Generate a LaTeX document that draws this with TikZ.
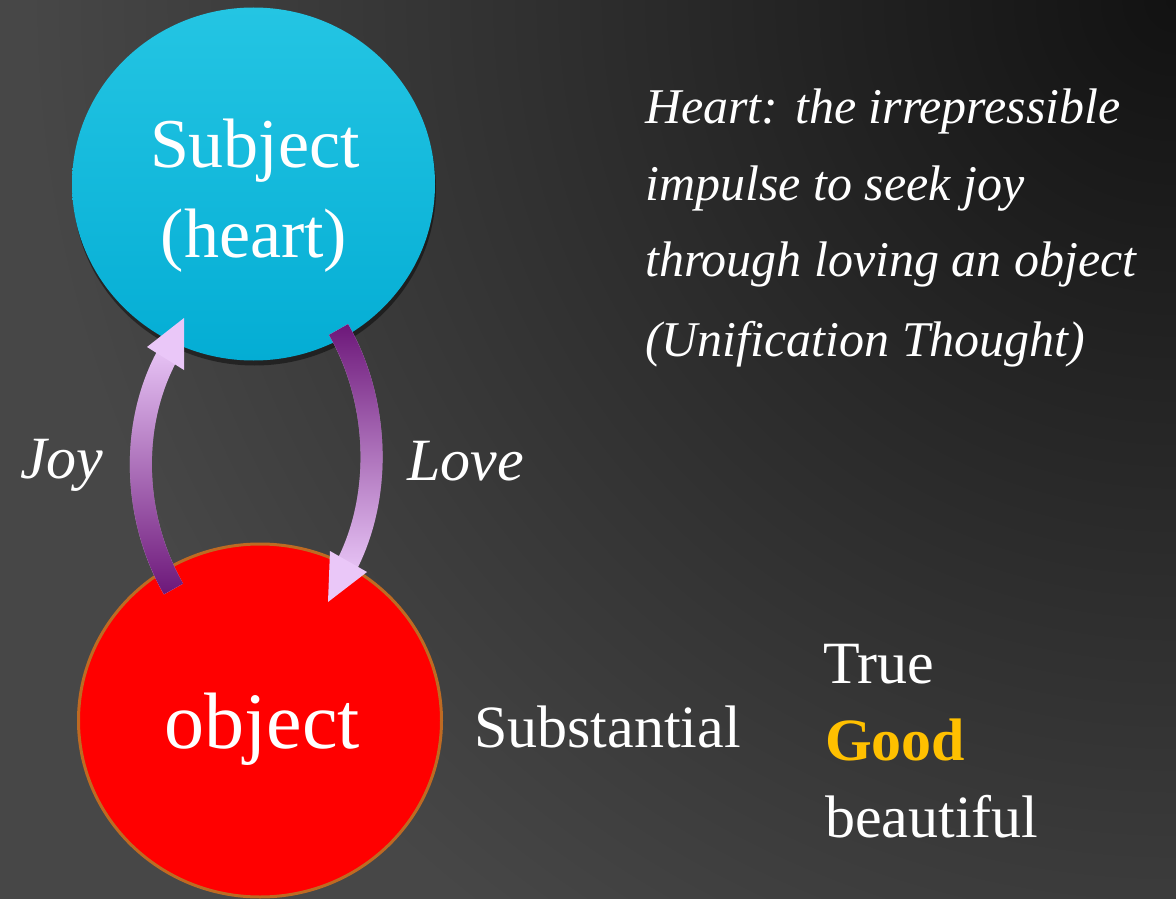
\documentclass[tikz,border=0pt]{standalone}
\usepackage{fontspec}
\setmainfont{Liberation Serif}
\usetikzlibrary{shapes.geometric,shadows,fadings}
\definecolor{bgdark}{HTML}{121212}
\definecolor{bglight}{HTML}{474747}
\definecolor{cyanT}{HTML}{24C5E3}
\definecolor{cyanB}{HTML}{04ADD4}
\definecolor{objred}{HTML}{FF0000}
\definecolor{objrim}{HTML}{BE6A22}
\definecolor{lav}{HTML}{EAC7F8}
\definecolor{purp}{HTML}{6A1477}
\definecolor{gold}{HTML}{FFC000}
\tikzfading[name=joyfade, top color=transparent!100, middle color=transparent!75, bottom color=transparent!0]
\tikzfading[name=lovefade, top color=transparent!0, middle color=transparent!60, bottom color=transparent!100]
\begin{document}
\begin{tikzpicture}[x=1pt,y=-1pt,
  txt/.style={text=white, inner sep=0pt, anchor=base},
  circtxt/.style={txt, font=\fontsize{70}{80}\selectfont},
  itxt/.style={txt, anchor=base west, font=\fontsize{60}{70}\selectfont\itshape},
  para/.style={txt, anchor=base west, font=\fontsize{50}{60}\selectfont\itshape},
  side/.style={txt, anchor=base west, font=\fontsize{60}{70}\selectfont},
  shaft/.style={line width=22pt, line cap=butt},
  head/.style={fill=lav}
]
\useasboundingbox (0,0) rectangle (1176,899);
% background
\begin{scope}
\clip (0,0) rectangle (1176,899);
\fill[bglight] (0,0) rectangle (1176,899);
\shade[inner color=bgdark, outer color=bglight] (1176,0) circle (1150);
\end{scope}

% circles
\node[ellipse, minimum width=363pt, minimum height=353pt, inner sep=0pt,
      top color=cyanT, bottom color=cyanB,
      drop shadow={shadow xshift=1pt, shadow yshift=-5pt, opacity=.45, fill=black}] (subj) at (253.5,184) {};
\node[ellipse, minimum width=363pt, minimum height=353pt, inner sep=0pt,
      fill=objred, draw=objrim, line width=3pt] (obj) at (260,720.5) {};

\node[circtxt] (subjA) at (255,167) {Subject};
\node[circtxt] (subjB) at (254,257) {(heart)};
\node[txt, font=\fontsize{80}{90}\selectfont] (objT) at (262,748) {object};

% arrows
\coordinate (joyTail) at (173.5,589);
\coordinate (joyBase) at (167,356);
\coordinate (joyTip) at (184,318);
\coordinate (joyL) at (147,347);
\coordinate (joyR) at (184,370);
\coordinate (loveTail) at (338.5,329.5);
\coordinate (loveBase) at (347.2,564.2);
\coordinate (loveTip) at (328,602);
\coordinate (loveL) at (330,551);
\coordinate (loveR) at (367,572);

\draw[shaft, draw=lav] (joyTail) .. controls +(-40,-70) and +(-38,71) .. (joyBase);
\draw[shaft, draw=purp, path fading=joyfade] (joyTail) .. controls +(-40,-70) and +(-38,71) .. (joyBase);
\fill[head] (joyTip) -- (joyL) -- (joyR) -- cycle;

\draw[shaft, draw=lav] (loveTail) .. controls +(40,69.3) and +(36,-71.2) .. (loveBase);
\draw[shaft, draw=purp, path fading=lovefade] (loveTail) .. controls +(40,69.3) and +(36,-71.2) .. (loveBase);
\fill[head] (loveTip) -- (loveL) -- (loveR) -- cycle;

% labels
\node[itxt] (joy) at (20,478) {Joy};
\node[itxt] (love) at (407,480) {Love};

\node[para] (p1) at (645,123) {Heart: the irrepressible};
\node[para] (p2) at (645,200) {impulse to seek joy};
\node[para] (p3) at (645,276) {through loving an object};
\node[para] (p4) at (645,356) {(Unification Thought)};

\node[side] (subst) at (474,747) {Substantial};
\node[side] (tru) at (823,683) {True};
\node[side, text=gold, font=\fontsize{60}{70}\selectfont\bfseries] (good) at (825,760) {Good};
\node[side] (beau) at (825,837) {beautiful};
\end{tikzpicture}
\end{document}
